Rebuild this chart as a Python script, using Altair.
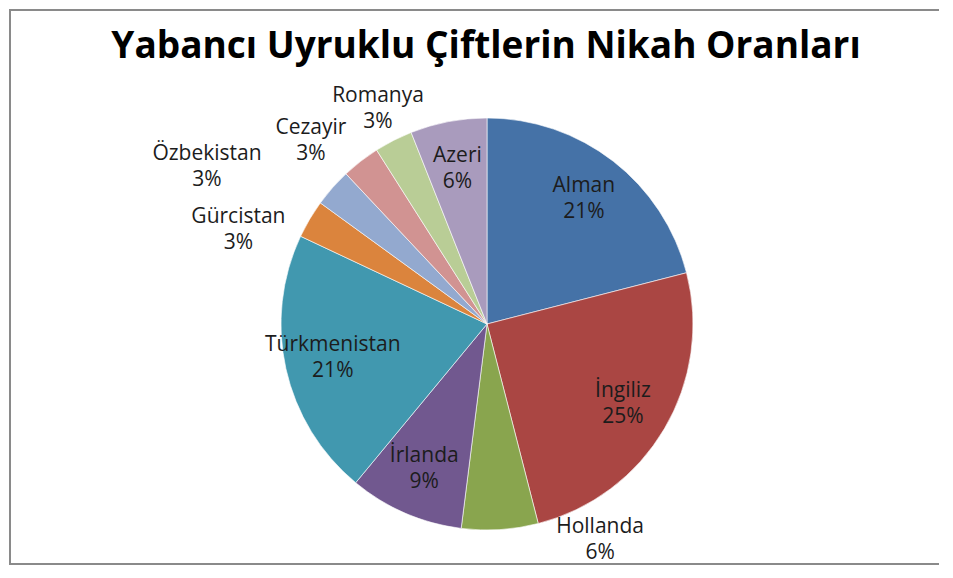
import altair as alt
import pandas as pd

# ---- data -------------------------------------------------------------
title_text = "Yabancı Uyruklu Çiftlerin Nikah Oranları"
names = ["Alman", "İngiliz", "Hollanda", "İrlanda", "Türkmenistan",
         "Gürcistan", "Özbekistan", "Cezayir", "Romanya", "Azeri"]
pcts = [21, 25, 6, 9, 21, 3, 3, 3, 3, 6]
colors = ["#4572A7", "#AA4643", "#89A54E", "#71588F", "#4198AF",
          "#DB843D", "#93A9CF", "#D19392", "#B9CD96", "#A99BBD"]
inside = ["Alman", "İngiliz", "İrlanda", "Türkmenistan", "Azeri"]
# Excel "best fit" nudges for the labels placed outside the pie (style)
outside_nudge = {
    "Hollanda": (98, -24),
    "Gürcistan": (-42, 28),
    "Özbekistan": (-100, 2),
    "Cezayir": (-29, 7),
    "Romanya": (0, -1),
}

# ---- layout -----------------------------------------------------------
W, H = 930, 556
CX, CY = 478, 315
R = 206
FONT = "Open Sans"
LH = 26

df = pd.DataFrame({"name": names, "pct": pcts, "idx": list(range(len(names)))})

base = (
    alt.Chart(df)
    .transform_window(cum="sum(pct)", sort=[alt.SortField("idx")],
                      frame=[None, 0])
    .transform_calculate(
        start="datum.cum - datum.pct",
        mid="datum.cum - datum.pct / 2",
        label="datum.name + '\\n' + datum.pct + '%'",
    )
)

theta_scale = alt.Scale(domain=[0, 100])

pie = base.mark_arc(radius=R, stroke="white", strokeWidth=0.6).encode(
    theta=alt.Theta("start:Q", scale=theta_scale),
    theta2="cum:Q",
    color=alt.Color("name:N", scale=alt.Scale(domain=names, range=colors),
                    legend=None),
    x=alt.value(CX),
    y=alt.value(CY),
)

text_style = dict(font=FONT, fontSize=21, color="#1c1c1c", lineBreak="\n",
                  lineHeight=LH, align="center", baseline="middle")

inside_labels = (
    base.transform_filter(alt.FieldOneOfPredicate(field="name", oneOf=inside))
    .mark_text(radius=158, dy=-LH / 2, **text_style)
    .encode(
        theta=alt.Theta("mid:Q", scale=theta_scale),
        text="label:N",
        x=alt.value(CX),
        y=alt.value(CY),
    )
)

outside_layers = []
for nm, (ddx, ddy) in outside_nudge.items():
    outside_layers.append(
        base.transform_filter(alt.datum.name == nm)
        .mark_text(radius=240, dx=ddx, dy=ddy - LH / 2, **text_style)
        .encode(
            theta=alt.Theta("mid:Q", scale=theta_scale),
            text="label:N",
            x=alt.value(CX),
            y=alt.value(CY),
        )
    )

one = pd.DataFrame({"t": [title_text]})
title = alt.Chart(one).mark_text(
    font=FONT, fontSize=37, fontWeight="bold", color="#000000",
    align="center", baseline="alphabetic"
).encode(text="t:N", x=alt.value(477), y=alt.value(49))

border_color = "#8a8a8a"
left_b = alt.Chart(one).mark_rule(color=border_color, strokeWidth=2).encode(
    x=alt.value(1), y=alt.value(0), y2=alt.value(H))
top_b = alt.Chart(one).mark_rule(color=border_color, strokeWidth=2).encode(
    y=alt.value(1), x=alt.value(0), x2=alt.value(W))
bot_b = alt.Chart(one).mark_rule(color=border_color, strokeWidth=2).encode(
    y=alt.value(H - 1), x=alt.value(0), x2=alt.value(W))

chart = (
    alt.layer(pie, inside_labels, *outside_layers, title, left_b, top_b, bot_b)
    .properties(width=W, height=H, padding=0, background="white")
    .configure_view(stroke=None)
)

chart.save("out.html", embed_options={"renderer": "svg", "actions": False})
